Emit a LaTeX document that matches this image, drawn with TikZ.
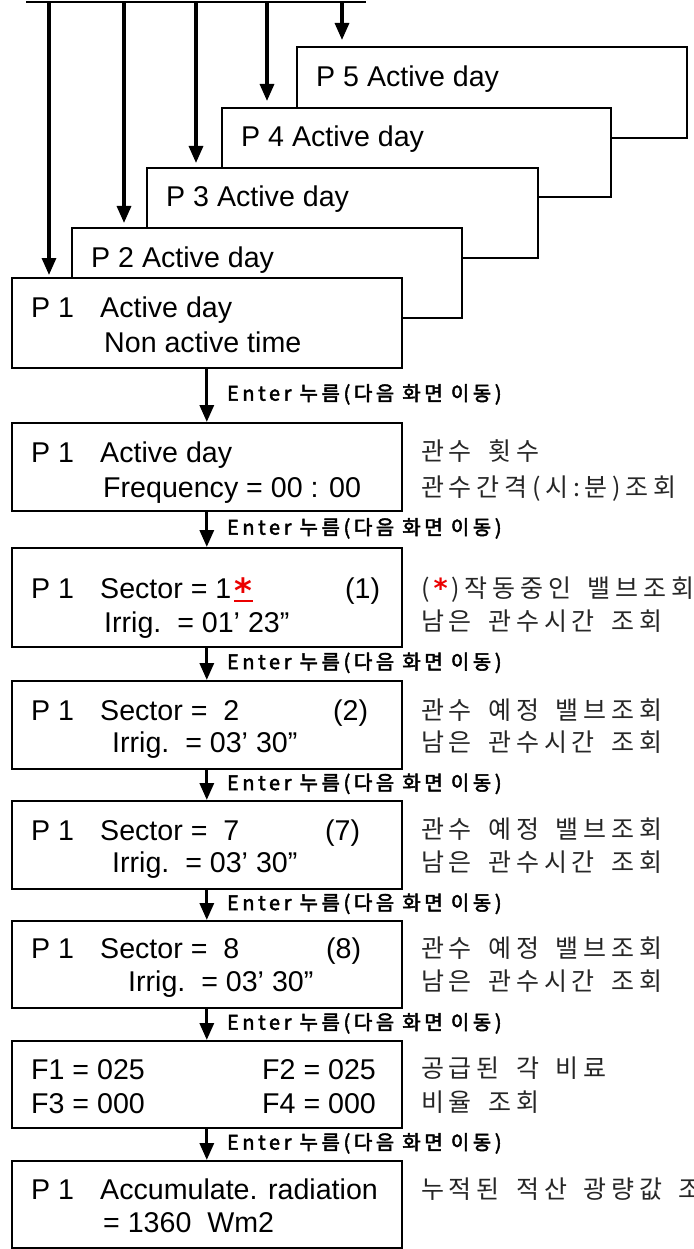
\documentclass[tikz,border=0pt]{standalone}
\usepackage{fontspec}
\setmainfont{Liberation Sans}
\newfontfamily\kor{Noto Sans CJK KR}[LetterSpace=19, WordSpace=1.6]
\newfontfamily\korb{Noto Sans CJK KR}[FakeBold=2.5, LetterSpace=18]
\newfontfamily\starfont{DejaVu Sans Bold}
\usetikzlibrary{arrows.meta,calc}
\definecolor{starred}{RGB}{235,0,0}
\newcommand{\redstar}{\hspace{4pt}\textcolor{starred}{\starfont\fontsize{27}{27}\selectfont\raisebox{7pt}{⁎}}\hspace{4pt}}
\begin{document}
\begin{tikzpicture}[x=1pt,y=-1pt,
  panel/.style={draw, line width=1.6pt, fill=white, anchor=north west, inner sep=0pt},
  lcd/.style={anchor=base west, inner sep=0pt, font=\fontsize{28.6}{32}\selectfont},
  note/.style={anchor=base west, inner sep=0pt, font=\kor\fontsize{25}{30}\selectfont, text=black!85},
  enter/.style={anchor=west, inner sep=0pt, font=\korb\fontsize{20}{22}\selectfont},
  flow/.style={line width=3.2pt, -{Triangle[length=17pt,width=14pt]}},
  asterisk/.style={anchor=base, inner sep=0pt, text=starred, font=\starfont\fontsize{34}{34}\selectfont},
]
\useasboundingbox (0,0) rectangle (693,1249);
\clip (0,0) rectangle (693,1249);

% program stack P5 .. P2 behind P1
\node[panel, minimum width=390pt, minimum height=91pt] (p5) at (296,46) {};
\node[lcd] (p5t) at (316,87) {P 5 Active day};
\node[panel, minimum width=389pt, minimum height=89pt] (p4) at (221,107) {};
\node[lcd] (p4t) at (241,147) {P 4 Active day};
\node[panel, minimum width=391pt, minimum height=90pt] (p3) at (146,167) {};
\node[lcd] (p3t) at (166,207) {P 3 Active day};
\node[panel, minimum width=390pt, minimum height=90pt] (p2) at (71,227) {};
\node[lcd] (p2t) at (91,267) {P 2 Active day};

% screen sequence
\node[panel, minimum width=390pt, minimum height=90pt] (b1) at (11,277) {};
\node[panel, minimum width=390pt, minimum height=88pt] (b2) at (11,422) {};
\node[panel, minimum width=390pt, minimum height=99pt] (b3) at (11,547) {};
\node[panel, minimum width=390pt, minimum height=88pt] (b4) at (11,680) {};
\node[panel, minimum width=390pt, minimum height=88pt] (b5) at (11,800) {};
\node[panel, minimum width=390pt, minimum height=87pt] (b6) at (11,920) {};
\node[panel, minimum width=390pt, minimum height=87pt] (b7) at (11,1040) {};
\node[panel, minimum width=390pt, minimum height=87pt] (b8) at (11,1160) {};

% bus with the program arrows
\coordinate (busL) at (26,2);
\coordinate (busR) at (366,2);
\draw[line width=1.4pt] (busL) -- (busR);
\coordinate (t1) at (49,2);
\coordinate (t2) at (124,2);
\coordinate (t3) at (196,2);
\coordinate (t4) at (267,2);
\coordinate (t5) at (342,2);
\draw[flow, shorten >=2pt] (t1) -- (t1 |- b1.north);
\draw[flow, shorten >=4pt] (t2) -- (t2 |- p2.north);
\draw[flow, shorten >=4pt] (t3) -- (t3 |- p3.north);
\draw[flow, shorten >=6pt] (t4) -- (t4 |- p4.north);
\draw[flow, shorten >=6pt] (t5) -- (t5 |- p5.north);

% Enter steps
\foreach \a/\b in {b1/b2,b2/b3,b3/b4,b4/b5,b5/b6,b6/b7,b7/b8}{
  \draw[flow] (\a.south) -- (\b.north);
  \node[enter] at ($(\a.south)!0.5!(\b.north)+(20,-1)$) {Enter 누름(다음 화면 이동)};
}

% screen texts
\node[lcd] at (31,317) {P 1};
\node[lcd] at (100,317) {Active day};
\node[lcd] at (104,352) {Non active time};

\node[lcd] at (31,462) {P 1};
\node[lcd] at (100,462) {Active day};
\node[lcd] at (103,497) {Frequency = 00 : 00};
\node[note] at (421,460) {관수 횟수};
\node[note] at (421,496) {관수간격(시:분)조회};

\node[lcd] at (31,598) {P 1};
\node[lcd] (sec1) at (100,598) {Sector = 1};
\node[asterisk] (ast) at (243.5,593) {⁎};
\coordinate (ulA) at (234,601);
\coordinate (ulB) at (253,601);
\draw[starred, line width=2pt] (ulA) -- (ulB);
\node[lcd] at (345,598) {(1)};
\node[lcd] at (104,632) {Irrig.\ \ = 01’ 23”};
\node[note] at (421,597) {(\redstar)작동중인 밸브조회};
\node[note] at (421,630) {남은 관수시간 조회};

\node[lcd] at (31,720) {P 1};
\node[lcd] at (100,720) {Sector =\ \ 2};
\node[lcd] at (333,720) {(2)};
\node[lcd] at (112,752) {Irrig.\ \ = 03’ 30”};
\node[note] at (421,719) {관수 예정 밸브조회};
\node[note] at (421,751) {남은 관수시간 조회};

\node[lcd] at (31,840) {P 1};
\node[lcd] at (100,840) {Sector =\ \ 7};
\node[lcd] at (325,840) {(7)};
\node[lcd] at (112,872) {Irrig.\ \ = 03’ 30”};
\node[note] at (421,838) {관수 예정 밸브조회};
\node[note] at (421,871) {남은 관수시간 조회};

\node[lcd] at (31,958) {P 1};
\node[lcd] at (100,958) {Sector =\ \ 8};
\node[lcd] at (326,958) {(8)};
\node[lcd] at (128,991) {Irrig.\ \ = 03’ 30”};
\node[note] at (421,957) {관수 예정 밸브조회};
\node[note] at (421,990) {남은 관수시간 조회};

\node[lcd] at (31,1079) {F1 = 025};
\node[lcd] at (262,1079) {F2 = 025};
\node[lcd] at (31,1113) {F3 = 000};
\node[lcd] at (262,1113) {F4 = 000};
\node[note] at (421,1077) {공급된 각 비료};
\node[note] at (421,1111) {비율 조회};

\node[lcd] at (31,1199) {P 1};
\node[lcd] at (100,1199) {Accumulate. radiation};
\node[lcd] at (103,1232) {= 1360\ \ Wm2};
\node[note] at (421,1198) {누적된 적산 광량값 조회};
\end{tikzpicture}
\end{document}
